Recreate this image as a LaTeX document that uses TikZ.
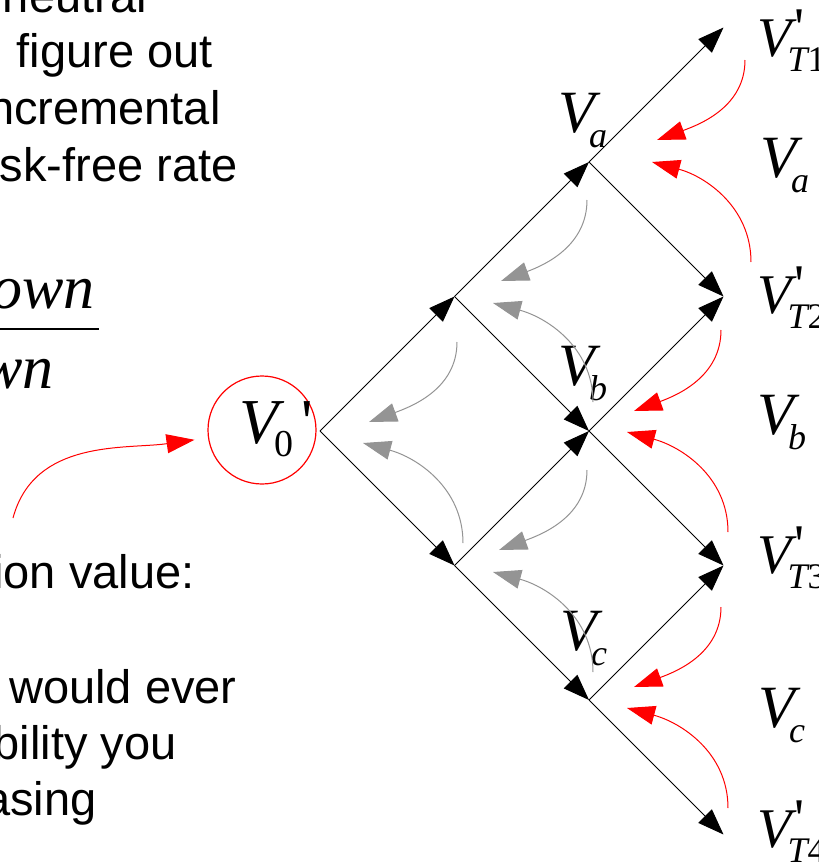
\documentclass[tikz,border=0pt]{standalone}
\usepackage{fontspec}
\setmainfont{Liberation Sans}
\newfontfamily\eqfont{Liberation Serif}[Ligatures=TeXOff]
\usetikzlibrary{arrows.meta}

\newcommand{\vsub}[1]{V\kern-3pt\raisebox{-7.5pt}{\fontsize{18}{18}\selectfont #1}}
\newcommand{\vend}[2]{V\rlap{\kern1.5pt\raisebox{5pt}{\upshape '}}\kern-2pt\raisebox{-7.5pt}{\fontsize{18}{18}\selectfont #1\upshape #2}}

\begin{document}
\begin{tikzpicture}[
        x=0.5pt, y=0.5pt,
        tree/.style={-{Triangle[length=13pt, width=9.5pt]}, line width=0.5pt},
        back/.style={-{Triangle[length=14pt, width=9.5pt]}, draw=red, line width=0.5pt},
        disc/.style={back, draw=black!42},
        note/.style={anchor=base east, inner sep=0pt, font=\fontsize{23.5}{28}\selectfont},
        val/.style={anchor=base west, inner sep=0pt, font=\eqfont\itshape\fontsize{30}{30}\selectfont},
        term/.style={val, font=\eqfont\itshape\fontsize{28}{28}\selectfont}
    ]
        \useasboundingbox (0,0) rectangle (819,-863);
        \clip (0,0) rectangle (819,-863);

        \node[note] (n1) at (147,-12) {neutral};
        \node[note] (n2) at (213,-67) {figure out};
        \node[note] (n3) at (221,-124) {ncremental};
        \node[note] (n4) at (238,-181) {sk-free rate};
        \node[note] (n5) at (195,-588) {ion value:};
        \node[note] (n6) at (237,-703) {would ever};
        \node[note] (n7) at (177,-759) {bility you};
        \node[note] (n8) at (97,-815) {asing};

        \node[val, anchor=base east, font=\eqfont\itshape\fontsize{31}{31}\selectfont] (num) at (95,-308) {down};
        \node[val, anchor=base east, font=\eqfont\itshape\fontsize{31}{31}\selectfont] (den) at (54,-388) {wn};
        \draw[line width=1pt] (0,-329) -- (99,-329);

        \coordinate (o) at (320,-431);
        \coordinate (u) at (454.5,-296.5);
        \coordinate (d) at (454.5,-565.5);
        \coordinate (a) at (589,-162);
        \coordinate (b) at (589,-431);
        \coordinate (c) at (589,-700);
        \coordinate (t1) at (723.5,-27.5);
        \coordinate (t2) at (723.5,-296.5);
        \coordinate (t3) at (723.5,-565.5);
        \coordinate (t4) at (723.5,-834.5);
        \foreach \s/\e in {o/u, o/d, u/a, u/b, d/b, d/c, a/t1, a/t2, b/t2, b/t3, c/t3, c/t4}
            \draw[tree] (\s) -- (\e);

        \node[val] (va) at (558,-132) {\vsub{a}};
        \node[val] (vb) at (558,-385) {\vsub{b}};
        \node[val] (vc) at (560,-650) {\vsub{c}};
        \node[val] (ra) at (760,-177) {\vsub{a}};
        \node[val] (rb) at (757,-434) {\vsub{b}};
        \node[val] (rc) at (758,-727) {\vsub{c}};
        \node[term] (vt1) at (757,-56) {\vend{T}{1}};
        \node[term] (vt2) at (757,-313) {\vend{T}{2}};
        \node[term] (vt3) at (757,-573) {\vend{T}{3}};
        \node[term] (vt4) at (757,-847) {\vend{T}{4}};

        \node[circle, draw=red, line width=0.6pt, minimum size=54pt, inner sep=0pt] (v0) at (262,-430) {};
        \node[val, font=\eqfont\itshape\fontsize{32}{32}\selectfont] (v0lab) at (239,-443)
            {V\kern-2pt\raisebox{-6.5pt}{\fontsize{19}{19}\selectfont\upshape 0}\kern4pt{\upshape '}};

        \coordinate (src) at (13,-518);
        \draw[back, shorten >=6.5pt] (src) to[out=75, in=188] ([yshift=-4pt]v0.west);

        \foreach \n/\x/\y in {r1/745/-60, e1/657/-140, r2/751/-262, e2/652/-162,
                r3/721/-330, e3/634/-411, r4/728/-532, e4/627/-432,
                r5/721/-607, e5/634/-687, r6/728/-808, e6/627/-708,
                g1/587/-200, f1/501/-281, g2/593/-402, f2/493/-303,
                g3/457/-342, f3/369/-422, g4/463/-543, f4/363/-443,
                g5/587/-470, f5/499/-550, g6/593/-672, f6/493/-572}
            \coordinate (\n) at (\x,\y);
        \foreach \s/\e/\p/\q in {r1/e1/-90/20, r2/e2/90/-15, r3/e3/-90/20, r4/e4/90/-15, r5/e5/-90/20, r6/e6/90/-15}
            \draw[back] (\s) to[out=\p, in=\q] (\e);
        \foreach \s/\e/\p/\q in {g1/f1/-90/20, g2/f2/90/-15, g3/f3/-90/20, g4/f4/90/-15, g5/f5/-90/20, g6/f6/90/-15}
            \draw[disc] (\s) to[out=\p, in=\q] (\e);
    \end{tikzpicture}
\end{document}
